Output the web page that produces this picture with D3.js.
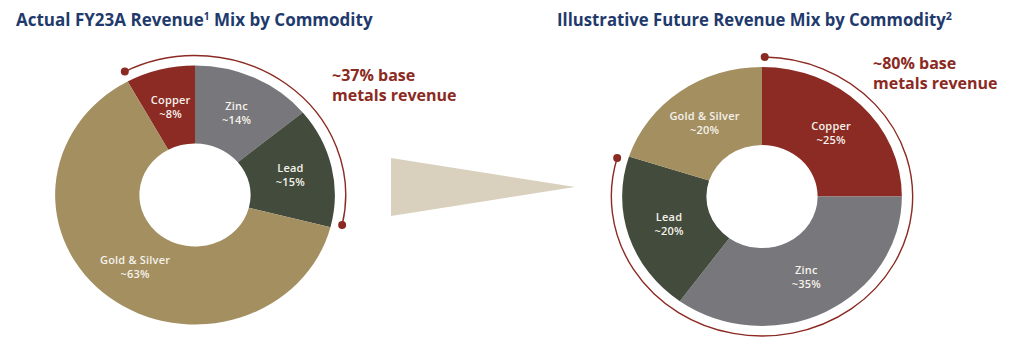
<!DOCTYPE html>
<html>
<head>
<meta charset="utf-8">
<script src="https://cdn.jsdelivr.net/npm/d3@7/dist/d3.min.js"></script>
<style>
  html, body { margin: 0; padding: 0; background: #ffffff; }
  svg { display: block; }
  text { font-family: "Open Sans", "DejaVu Sans", sans-serif; }
</style>
</head>
<body>
<svg id="chart" width="1024" height="356"></svg>
<script>
// ---- data ----
const commodities = ["Copper", "Zinc", "Lead", "Gold & Silver"];
const fy23Values = [8, 14, 15, 63];
const futureValues = [25, 35, 20, 20];
const fy23Labels = ["~8%", "~14%", "~15%", "~63%"];
const futureLabels = ["~25%", "~35%", "~20%", "~20%"];
const baseMetals = ["Copper", "Zinc", "Lead"];
const leftTitle = ["Actual FY23A Revenue", "1", " Mix by Commodity"];
const rightTitle = ["Illustrative Future Revenue Mix by Commodity", "2"];
const leftNote = ["~37% base", "metals revenue"];
const rightNote = ["~80% base", "metals revenue"];

const colorScale = d3.scaleOrdinal()
  .domain(commodities)
  .range(["#8b2b24", "#78777b", "#434c3c", "#a48f61"]);

const accent = "#8b2a22";
const navy = "#1f3a6c";
const svg = d3.select("#chart");
const SX = 1.08;
const R_OUT = 129.5, R_IN = 51.5, R_NOTE = 139.5;

function donut(cx, cy, values, pctLabels, startFrac) {
  const data = commodities.map((c, i) => ({ name: c, value: values[i], pct: pctLabels[i] }));
  const start = -startFrac * 2 * Math.PI;
  const pie = d3.pie().value(d => d.value).sort(null)
    .startAngle(start).endAngle(start + 2 * Math.PI);
  const arcs = pie(data);
  const arc = d3.arc().innerRadius(R_IN).outerRadius(R_OUT);

  const g = svg.append("g").attr("transform", `translate(${cx},${cy}) scale(${SX},1)`);
  g.selectAll("path.slice").data(arcs).enter().append("path")
    .attr("class", "slice")
    .attr("d", arc)
    .attr("fill", d => colorScale(d.data.name));

  // base metals annotation arc
  const base = arcs.filter(a => baseMetals.includes(a.data.name));
  const a0 = d3.min(base, a => a.startAngle) + 0.018;
  const a1 = d3.max(base, a => a.endAngle) - 0.035;
  const p = d3.path();
  p.arc(0, 0, R_NOTE, a0 - Math.PI / 2, a1 - Math.PI / 2);
  g.append("path").attr("d", p.toString())
    .attr("fill", "none").attr("stroke", accent).attr("stroke-width", 1.4)
    .attr("vector-effect", "non-scaling-stroke");
  [a0, a1].forEach(a => {
    svg.append("circle")
      .attr("cx", cx + SX * R_NOTE * Math.sin(a))
      .attr("cy", cy - R_NOTE * Math.cos(a))
      .attr("r", 4).attr("fill", accent);
  });

  // labels
  arcs.forEach(a => {
    const [x, y] = arc.centroid(a);
    const t = svg.append("text")
      .attr("text-anchor", "middle")
      .attr("font-size", 11).attr("font-weight", 600)
      .attr("letter-spacing", 0.2)
      .attr("fill", "#f5f2ea");
    t.append("tspan").attr("x", cx + SX * x).attr("y", cy + y - 3).text(a.data.name);
    t.append("tspan").attr("x", cx + SX * x).attr("y", cy + y + 11).text(a.data.pct);
  });
}

donut(195, 195, fy23Values, fy23Labels, fy23Values[0] / d3.sum(fy23Values));
donut(762, 196.5, futureValues, futureLabels, 0);

// fit a text element horizontally to a target width
function fitWidth(sel, x, target) {
  const w = sel.node().getBBox().width;
  const k = target / w;
  sel.attr("transform", `translate(${x},0) scale(${k},1) translate(${-x},0)`);
}

// titles
const t1 = svg.append("text").attr("x", 16).attr("y", 26)
  .attr("font-size", 17).attr("font-weight", 700).attr("fill", navy);
t1.append("tspan").text(leftTitle[0]);
t1.append("tspan").attr("font-size", 10).attr("dy", -6).text(leftTitle[1]);
t1.append("tspan").attr("dy", 6).text(leftTitle[2]);
fitWidth(t1, 16, 357);

const t2 = svg.append("text").attr("x", 557).attr("y", 26)
  .attr("font-size", 17).attr("font-weight", 700).attr("fill", navy);
t2.append("tspan").text(rightTitle[0]);
t2.append("tspan").attr("font-size", 11).attr("dy", -6).text(rightTitle[1]);
fitWidth(t2, 557, 395);

// notes
function note(x, y, lines) {
  const t = svg.append("text").attr("font-size", 16).attr("font-weight", 700).attr("fill", accent);
  lines.forEach((l, i) => t.append("tspan").attr("x", x).attr("y", y + i * 20).text(l));
}
note(332, 81, leftNote);
note(873, 69, rightNote);

// arrow triangle
const tri = d3.line();
svg.append("path")
  .attr("d", tri([[391, 158], [575, 187], [391, 216]]) + "Z")
  .attr("fill", "#d9d1bd");
</script>
</body>
</html>
